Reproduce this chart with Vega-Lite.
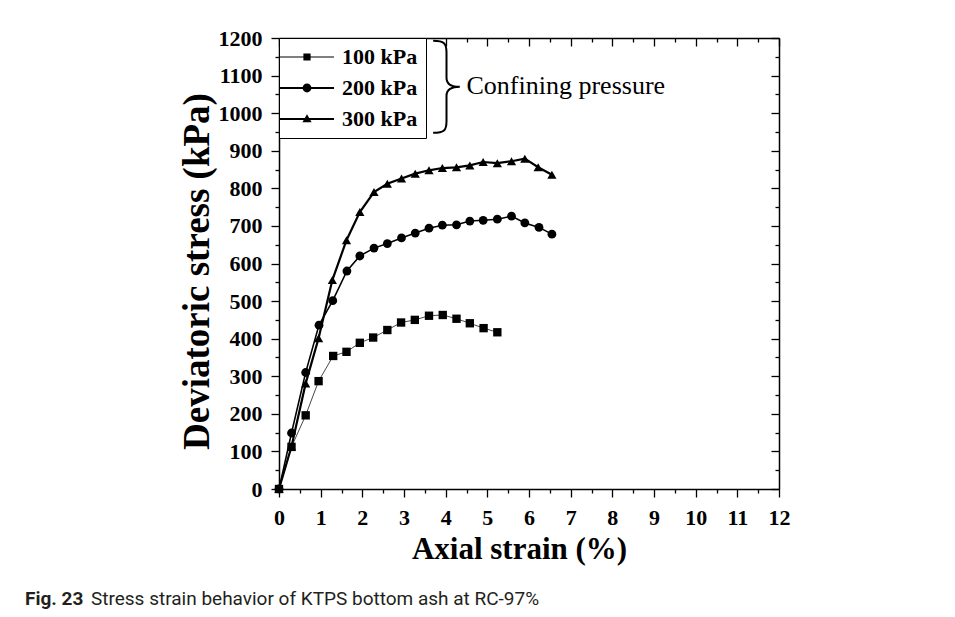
{
  "$schema": "https://vega.github.io/schema/vega-lite/v6.json",
  "width": 500,
  "height": 451,
  "autosize": "none",
  "padding": {"left": 279, "top": 38, "right": 176, "bottom": 128},
  "background": "white",
  "config": {"view": {"stroke": null}},
  "title": {
    "text": "Fig. 23",
    "subtitle": "\u200b\u00a0\u00a0\u00a0\u00a0\u00a0\u00a0\u00a0\u00a0\u00a0\u00a0\u00a0\u00a0\u00a0\u00a0Stress strain behavior of KTPS bottom ash at RC-97%",
    "orient": "bottom",
    "anchor": "start",
    "frame": "group",
    "dx": -254,
    "offset": 26,
    "font": "Roboto",
    "fontWeight": "bold",
    "fontSize": 19,
    "color": "#231f20",
    "subtitleFont": "Roboto",
    "subtitleFontSize": 19,
    "subtitleFontWeight": "normal",
    "subtitleColor": "#231f20",
    "subtitlePadding": -19
  },
  "data": {
    "values": [
      {"series": "100 kPa", "strain": 0, "stress": 0},
      {"series": "100 kPa", "strain": 0.30, "stress": 112},
      {"series": "100 kPa", "strain": 0.64, "stress": 196},
      {"series": "100 kPa", "strain": 0.95, "stress": 287},
      {"series": "100 kPa", "strain": 1.30, "stress": 354},
      {"series": "100 kPa", "strain": 1.62, "stress": 365},
      {"series": "100 kPa", "strain": 1.94, "stress": 389},
      {"series": "100 kPa", "strain": 2.26, "stress": 403},
      {"series": "100 kPa", "strain": 2.60, "stress": 423},
      {"series": "100 kPa", "strain": 2.93, "stress": 443},
      {"series": "100 kPa", "strain": 3.26, "stress": 450},
      {"series": "100 kPa", "strain": 3.60, "stress": 461},
      {"series": "100 kPa", "strain": 3.93, "stress": 463},
      {"series": "100 kPa", "strain": 4.26, "stress": 453},
      {"series": "100 kPa", "strain": 4.58, "stress": 441},
      {"series": "100 kPa", "strain": 4.91, "stress": 428},
      {"series": "100 kPa", "strain": 5.24, "stress": 417},
      {"series": "200 kPa", "strain": 0, "stress": 0},
      {"series": "200 kPa", "strain": 0.30, "stress": 149},
      {"series": "200 kPa", "strain": 0.64, "stress": 310},
      {"series": "200 kPa", "strain": 0.96, "stress": 436},
      {"series": "200 kPa", "strain": 1.29, "stress": 501},
      {"series": "200 kPa", "strain": 1.63, "stress": 580},
      {"series": "200 kPa", "strain": 1.94, "stress": 620},
      {"series": "200 kPa", "strain": 2.28, "stress": 641},
      {"series": "200 kPa", "strain": 2.60, "stress": 653},
      {"series": "200 kPa", "strain": 2.94, "stress": 668},
      {"series": "200 kPa", "strain": 3.27, "stress": 681},
      {"series": "200 kPa", "strain": 3.60, "stress": 694},
      {"series": "200 kPa", "strain": 3.92, "stress": 702},
      {"series": "200 kPa", "strain": 4.26, "stress": 703},
      {"series": "200 kPa", "strain": 4.58, "stress": 713},
      {"series": "200 kPa", "strain": 4.90, "stress": 715},
      {"series": "200 kPa", "strain": 5.24, "stress": 718},
      {"series": "200 kPa", "strain": 5.58, "stress": 726},
      {"series": "200 kPa", "strain": 5.90, "stress": 708},
      {"series": "200 kPa", "strain": 6.24, "stress": 696},
      {"series": "200 kPa", "strain": 6.55, "stress": 678},
      {"series": "300 kPa", "strain": 0, "stress": 0},
      {"series": "300 kPa", "strain": 0.30, "stress": 113},
      {"series": "300 kPa", "strain": 0.64, "stress": 281},
      {"series": "300 kPa", "strain": 0.95, "stress": 401},
      {"series": "300 kPa", "strain": 1.28, "stress": 556},
      {"series": "300 kPa", "strain": 1.62, "stress": 662},
      {"series": "300 kPa", "strain": 1.94, "stress": 737},
      {"series": "300 kPa", "strain": 2.28, "stress": 790},
      {"series": "300 kPa", "strain": 2.60, "stress": 812},
      {"series": "300 kPa", "strain": 2.94, "stress": 826},
      {"series": "300 kPa", "strain": 3.27, "stress": 839},
      {"series": "300 kPa", "strain": 3.60, "stress": 848},
      {"series": "300 kPa", "strain": 3.92, "stress": 854},
      {"series": "300 kPa", "strain": 4.26, "stress": 856},
      {"series": "300 kPa", "strain": 4.58, "stress": 861},
      {"series": "300 kPa", "strain": 4.90, "stress": 870},
      {"series": "300 kPa", "strain": 5.24, "stress": 867},
      {"series": "300 kPa", "strain": 5.58, "stress": 872},
      {"series": "300 kPa", "strain": 5.90, "stress": 879},
      {"series": "300 kPa", "strain": 6.22, "stress": 856},
      {"series": "300 kPa", "strain": 6.55, "stress": 836}
    ]
  },
  "layer": [
    {
      "mark": {"type": "line", "clip": false},
      "encoding": {
        "x": {
          "field": "strain", "type": "quantitative",
          "scale": {"domain": [0, 12], "nice": false, "zero": true},
          "axis": {
            "orient": "bottom",
            "values": [0, 0.5, 1, 1.5, 2, 2.5, 3, 3.5, 4, 4.5, 5, 5.5, 6, 6.5, 7, 7.5, 8, 8.5, 9, 9.5, 10, 10.5, 11, 11.5, 12],
            "labelExpr": "datum.value % 1 ? '' : format(datum.value, 'd')",
            "tickSize": {"condition": {"test": "datum.value % 1 !== 0", "value": 4}, "value": 8},
            "labelFont": "Liberation Serif", "labelFontWeight": "bold", "labelFontSize": 22, "labelColor": "black",
            "labelPadding": 10, "labelOverlap": false, "labelFlush": false,
            "title": "Axial strain (%)", "titleFont": "Liberation Serif", "titleFontSize": 31, "titleFontWeight": "bold", "titleColor": "black",
            "titlePadding": 6, "titleX": 240,
            "domainColor": "black", "domainWidth": 1.5, "tickColor": "black", "tickWidth": 1.3, "grid": false
          }
        },
        "y": {
          "field": "stress", "type": "quantitative",
          "scale": {"domain": [0, 1200], "nice": false, "zero": true},
          "axis": {
            "orient": "left",
            "values": [0, 50, 100, 150, 200, 250, 300, 350, 400, 450, 500, 550, 600, 650, 700, 750, 800, 850, 900, 950, 1000, 1050, 1100, 1150, 1200],
            "labelExpr": "datum.value % 100 ? '' : format(datum.value, 'd')",
            "tickSize": {"condition": {"test": "datum.value % 100 !== 0", "value": 4}, "value": 8},
            "labelFont": "Liberation Serif", "labelFontWeight": "bold", "labelFontSize": 22, "labelColor": "black",
            "labelPadding": 9, "labelOverlap": false, "labelFlush": false,
            "title": "Deviatoric stress (kPa)", "titleFont": "Liberation Serif", "titleFontSize": 37, "titleFontWeight": "bold", "titleColor": "black",
            "titlePadding": 2, "titleY": 233,
            "domainColor": "black", "domainWidth": 1.5, "tickColor": "black", "tickWidth": 1.3, "grid": false
          }
        },
        "detail": {"field": "series", "type": "nominal"},
        "color": {"field": "series", "type": "nominal", "scale": {"range": ["#333333", "#000000", "#000000"]}, "legend": null},
        "strokeWidth": {"field": "series", "type": "nominal", "scale": {"range": [0.9, 2.2, 2.2]}, "legend": null}
      }
    },
    {
      "mark": {"type": "point", "filled": true, "color": "black", "opacity": 1},
      "encoding": {
        "x": {
          "field": "strain", "type": "quantitative",
          "axis": {
            "orient": "top",
            "values": [0, 0.5, 1, 1.5, 2, 2.5, 3, 3.5, 4, 4.5, 5, 5.5, 6, 6.5, 7, 7.5, 8, 8.5, 9, 9.5, 10, 10.5, 11, 11.5, 12],
            "labels": false, "title": null,
            "tickSize": {"condition": {"test": "datum.value % 1 !== 0", "value": -4}, "value": -8},
            "domainColor": "black", "domainWidth": 1.5, "tickColor": "black", "tickWidth": 1.3, "grid": false
          }
        },
        "y": {
          "field": "stress", "type": "quantitative",
          "axis": {
            "orient": "right",
            "values": [0, 50, 100, 150, 200, 250, 300, 350, 400, 450, 500, 550, 600, 650, 700, 750, 800, 850, 900, 950, 1000, 1050, 1100, 1150, 1200],
            "labels": false, "title": null,
            "tickSize": {"condition": {"test": "datum.value % 100 !== 0", "value": -4}, "value": -8},
            "domainColor": "black", "domainWidth": 1.5, "tickColor": "black", "tickWidth": 1.3, "grid": false
          }
        },
        "shape": {"field": "series", "type": "nominal", "scale": {"range": ["square", "circle", "triangle-up"]}, "legend": null},
        "size": {"field": "series", "type": "nominal", "scale": {"range": [70, 85, 110]}, "legend": null}
      }
    },
    {
      "mark": {"type": "point", "filled": true, "color": "black", "opacity": 0},
      "encoding": {
        "x": {"field": "strain", "type": "quantitative", "axis": null},
        "y": {"field": "stress", "type": "quantitative", "axis": null},
        "shape": {
          "field": "series", "type": "nominal",
          "scale": {"range": [
            "M-6.75,-0.13H6.75V0.13H-6.75ZM-0.9,-0.9H0.9V0.9H-0.9Z",
            "M-6.75,-0.27H6.75V0.27H-6.75ZM-1.1,0A1.1,1.1,0,1,1,1.1,0A1.1,1.1,0,1,1,-1.1,0Z",
            "M-6.75,-0.27H6.75V0.27H-6.75ZM0,-1.2L1.15,0.8H-1.15Z"
          ]},
          "legend": {
            "orient": "none", "legendX": 0, "legendY": 0,
            "title": null,
            "labelFont": "Liberation Serif", "labelFontWeight": "bold", "labelFontSize": 22, "labelColor": "black",
            "labelOffset": 24, "symbolOffset": 9, "rowPadding": 9, "padding": 8,
            "strokeColor": "black", "fillColor": "white",
            "symbolSize": 64, "symbolOpacity": 1, "symbolFillColor": "black", "symbolStrokeColor": "black", "symbolStrokeWidth": 0,
            "encode": {
              "symbols": {
                "update": {
                  "fill": {"value": "black"},
                  "strokeWidth": {"value": 0},
                  "opacity": {"value": 1}
                }
              }
            }
          }
        }
      }
    },
    {
      "data": {"values": [{"label": "brace"}]},
      "mark": {
        "type": "point", "filled": false, "stroke": "black", "strokeWidth": 2, "opacity": 1,
        "shape": "M-0.29,-1C-0.05,-1,0,-0.95,0,-0.75L0,-0.2C0,-0.05,0.1,0,0.29,0C0.1,0,0,0.05,0,0.2L0,0.75C0,0.95,-0.05,1,-0.29,1",
        "size": 8464
      },
      "encoding": {
        "x": {"datum": 4.02, "type": "quantitative", "axis": null},
        "y": {"datum": 1070, "type": "quantitative", "axis": null}
      }
    },
    {
      "data": {"values": [{"label": "Confining pressure"}]},
      "mark": {"type": "text", "align": "left", "baseline": "middle", "font": "Liberation Serif", "fontSize": 26, "color": "black"},
      "encoding": {
        "x": {"datum": 4.5, "type": "quantitative", "axis": null},
        "y": {"datum": 1073, "type": "quantitative", "axis": null},
        "text": {"field": "label", "type": "nominal"}
      }
    }
  ],
  "resolve": {
    "scale": {"shape": "independent", "size": "independent"},
    "axis": {"x": "independent", "y": "independent"},
    "legend": {"shape": "independent"}
  }
}
